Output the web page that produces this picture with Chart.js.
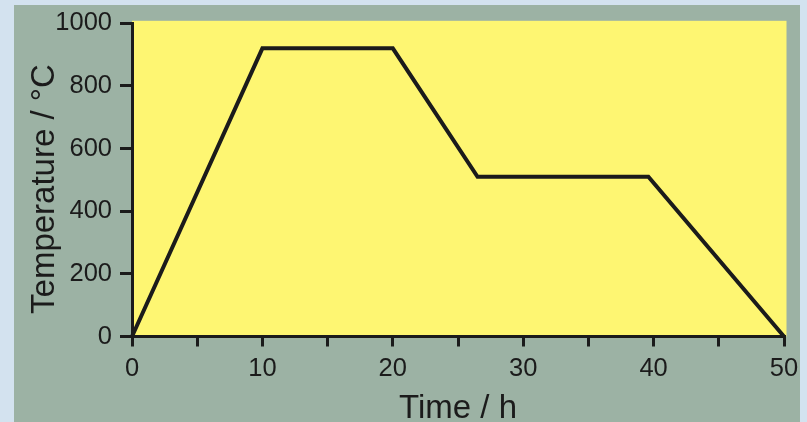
<!DOCTYPE html>
<html>
<head>
<meta charset="utf-8">
<script src="https://cdn.jsdelivr.net/npm/chart.js@4.4.0/dist/chart.umd.min.js"></script>
<style>
  html, body { margin: 0; padding: 0; background: #d3e2ef; }
  #wrap { position: relative; width: 807px; height: 422px; }
</style>
</head>
<body>
<div id="wrap"><canvas id="chart"></canvas></div>
<script>
// heating schedule
const timeH = [0, 10, 20, 26.5, 39.6, 50];
const tempC = [0, 920, 920, 510, 510, 0];

const xLabelTicks = [0, 10, 20, 30, 40, 50];   // labelled ticks, minor marks every 5
const yTicks = [0, 200, 400, 600, 800, 1000];

const ink = '#1b1b1b';
const fontFamily = '"Liberation Sans", Arial, Helvetica, sans-serif';

// paint the grey panel and the yellow plot area behind everything
const panelPlugin = {
    id: 'panel',
    beforeDraw(chart) {
        const ctx = chart.ctx;
        const a = chart.chartArea;
        ctx.save();
        ctx.fillStyle = '#9cb2a4';
        ctx.fillRect(14, 5, 786, 417);
        ctx.fillStyle = '#fef672';
        ctx.fillRect(a.left, a.top - 2.5, a.right - a.left + 2.5, a.bottom - a.top + 2.5);
        ctx.restore();
    }
};

const points = timeH.map((t, i) => ({ x: t, y: tempC[i] }));

new Chart(document.getElementById('chart'), {
    type: 'line',
    data: {
        datasets: [{
            data: points,
            borderColor: ink,
            borderWidth: 4,
            borderJoinStyle: 'miter',
            pointRadius: 0,
            tension: 0,
            fill: false,
            clip: false
        }]
    },
    options: {
        responsive: true,
        maintainAspectRatio: false,
        animation: false,
        layout: { padding: { top: 19, right: 23, left: 0, bottom: 0 } },
        plugins: { legend: { display: false }, tooltip: { enabled: false } },
        scales: {
            x: {
                type: 'linear',
                min: 0,
                max: 50,
                afterFit: (scale) => { scale.height = 85.5; },
                border: { display: true, color: ink, width: 3 },
                grid: { drawOnChartArea: false, drawTicks: true, tickLength: 10, color: ink, lineWidth: 3 },
                ticks: {
                    stepSize: 5,
                    padding: 7,
                    color: ink,
                    font: { family: fontFamily, size: 25.5 },
                    maxRotation: 0,
                    callback: (v) => xLabelTicks.includes(v) ? String(v) : ''
                },
                title: {
                    display: true,
                    text: 'Time / h',
                    color: ink,
                    font: { family: fontFamily, size: 33, lineHeight: 0.8 },
                    padding: { top: 0, bottom: 0 }
                }
            },
            y: {
                type: 'linear',
                min: 0,
                max: 1000,
                afterFit: (scale) => { scale.width = 132; },
                border: { display: true, color: ink, width: 3 },
                grid: { drawOnChartArea: false, drawTicks: true, tickLength: 12, color: ink, lineWidth: 3 },
                ticks: {
                    stepSize: 200,
                    padding: 8,
                    color: ink,
                    font: { family: fontFamily, size: 25.5 },
                    callback: (v) => yTicks.includes(v) ? String(v) : ''
                },
                title: {
                    display: true,
                    text: 'Temperature / °C  ',
                    color: ink,
                    font: { family: fontFamily, size: 33, lineHeight: 1 },
                    padding: { top: 28, bottom: 0 }
                }
            }
        }
    },
    plugins: [panelPlugin]
});
</script>
</body>
</html>
